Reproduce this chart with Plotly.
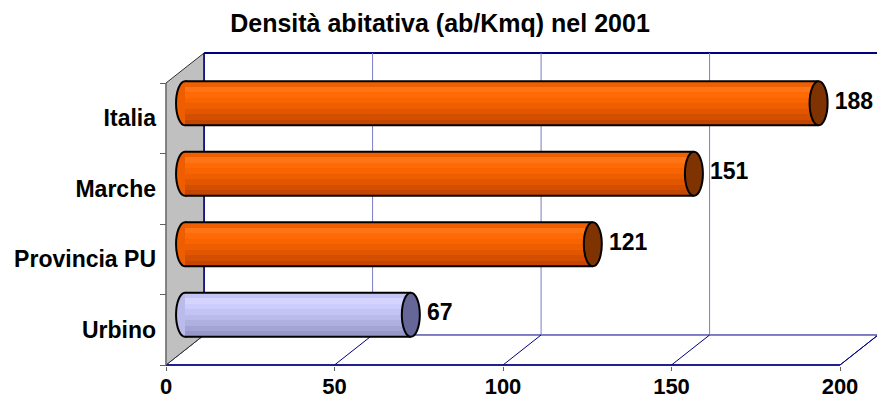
import plotly.graph_objects as go

# ---- data ----
categories = ["Urbino", "Provincia PU", "Marche", "Italia"]
values = [67, 121, 151, 188]
x_ticks = [0, 50, 100, 150, 200]
title_text = "Densità abitativa (ab/Kmq) nel 2001"

# ---- styling / geometry (in axis units) ----
DX = 11.3      # 3D depth offset in value units
DY = 0.426     # 3D depth offset in category units
R = 0.312      # cylinder half thickness (category units)
RX = 2.67      # cap ellipse half width (value units)
N = 8          # shading strips

orange = ["#F06000", "#FF7414", "#FF6A06", "#F86400", "#EE5E00", "#E25600", "#D44E00", "#C44600"]
lavender = ["#C4C4F4", "#D4D4FF", "#CDCDFD", "#C4C4F4", "#BBBBEB", "#B0B0E0", "#A4A4D4", "#9898C8"]
cap_orange = "#7F3300"
cap_lav = "#666699"
mid_orange = "#EE5E00"
mid_lav = "#BBBBEB"
FONT = "Liberation Sans, Arial"

is_local = [c == "Urbino" for c in categories]
ypos = [i + 0.5 + DY / 2 for i in range(len(categories))]
ncat = len(categories)
xmax = x_ticks[-1]

fig = go.Figure()

# cylinder body strips
h = 2 * R / N
for k in range(N):
    cols = [lavender[k] if loc else orange[k] for loc in is_local]
    fig.add_trace(go.Bar(
        orientation="h", y=ypos, x=values, base=[DX / 2] * ncat,
        width=h * 1.02, offset=R - (k + 1) * h,
        marker=dict(color=cols, line=dict(width=0)),
        hoverinfo="skip", showlegend=False))

# data labels
fig.add_trace(go.Scatter(
    x=[v + DX / 2 + RX + 2.1 for v in values], y=ypos, mode="text",
    text=[str(v) for v in values], textposition="middle right",
    textfont=dict(family=FONT, size=23, color="black", weight="bold"),
    hoverinfo="skip", showlegend=False, cliponaxis=False))

shapes = []
navy = "#000080"
grid = "#7B7BC8"
# floor
shapes.append(dict(type="path", layer="below",
                   path=f"M 0 0 L {xmax} 0 L {xmax+DX} {DY} L {DX} {DY} Z",
                   fillcolor="white", line=dict(color=navy, width=1)))
# left wall
shapes.append(dict(type="path", layer="below",
                   path=f"M 0 0 L 0 {ncat} L {DX} {ncat+DY} L {DX} {DY} Z",
                   fillcolor="#C0C0C0", line=dict(color="#303030", width=1)))
# back wall top border and left border
shapes.append(dict(type="line", layer="below", x0=DX, x1=xmax + DX + 5, y0=ncat + DY, y1=ncat + DY,
                   line=dict(color=navy, width=2)))
shapes.append(dict(type="line", layer="below", x0=DX, x1=DX, y0=DY, y1=ncat + DY,
                   line=dict(color=navy, width=1.5)))
# back grid & floor diagonals
for t in x_ticks[1:]:
    if t < xmax:
        shapes.append(dict(type="line", layer="below", x0=t + DX, x1=t + DX, y0=DY, y1=ncat + DY,
                           line=dict(color=grid, width=1)))
    shapes.append(dict(type="line", layer="below", x0=t, x1=t + DX, y0=0, y1=DY,
                       line=dict(color=navy, width=1)))
# front floor edge
shapes.append(dict(type="line", layer="below", x0=0, x1=xmax, y0=0, y1=0,
                   line=dict(color=navy, width=1.5)))
# y axis line (front edge of wall)
shapes.append(dict(type="line", layer="below", x0=0, x1=0, y0=0, y1=ncat,
                   line=dict(color="#808080", width=1.5)))

for v, yc, loc in zip(values, ypos, is_local):
    # left cap
    shapes.append(dict(type="circle", layer="between", x0=DX / 2 - RX, x1=DX / 2 + RX,
                       y0=yc - R, y1=yc + R, fillcolor=mid_lav if loc else mid_orange,
                       line=dict(color="black", width=2)))
    # body outlines
    for yy in (yc - R, yc + R):
        shapes.append(dict(type="line", layer="above", x0=DX / 2, x1=v + DX / 2, y0=yy, y1=yy,
                           line=dict(color="black", width=2)))
    # right cap
    shapes.append(dict(type="circle", layer="above", x0=v + DX / 2 - RX, x1=v + DX / 2 + RX,
                       y0=yc - R, y1=yc + R, fillcolor=cap_lav if loc else cap_orange,
                       line=dict(color="black", width=2)))

fig.update_layout(
    width=877, height=401,
    margin=dict(l=160, r=0, t=48, b=35),
    paper_bgcolor="white", plot_bgcolor="white",
    barmode="overlay", bargap=0,
    shapes=shapes,
    title=dict(text=title_text, x=440 / 877, xanchor="center", y=1 - 23 / 401, yanchor="middle",
               font=dict(family=FONT, size=25, color="black", weight="bold")),
    xaxis=dict(range=[-6 / 3.37, -6 / 3.37 + 717 / 3.37], tickvals=x_ticks,
               ticktext=[str(t) for t in x_ticks], showgrid=False, zeroline=False,
               showline=False, ticks="outside", ticklen=4, tickcolor="#606060",
               ticklabelstandoff=-3, automargin=False,
               tickfont=dict(family=FONT, size=22, color="black", weight="bold")),
    yaxis=dict(range=[-1 / 70.5, 317 / 70.5], tickvals=[i + 0.5 for i in range(ncat)],
               ticktext=categories, showgrid=False, zeroline=False, showline=False,
               ticks="", ticklabelstandoff=3, automargin=False,
               minor=dict(tickvals=list(range(ncat + 1)), ticks="inside", ticklen=6,
                          tickcolor="#606060", showgrid=False),
               tickfont=dict(family=FONT, size=23, color="black", weight="bold")),
)

fig.write_html("out.html", config={"displayModeBar": False},
               post_script="document.body.style.margin='0px';")
